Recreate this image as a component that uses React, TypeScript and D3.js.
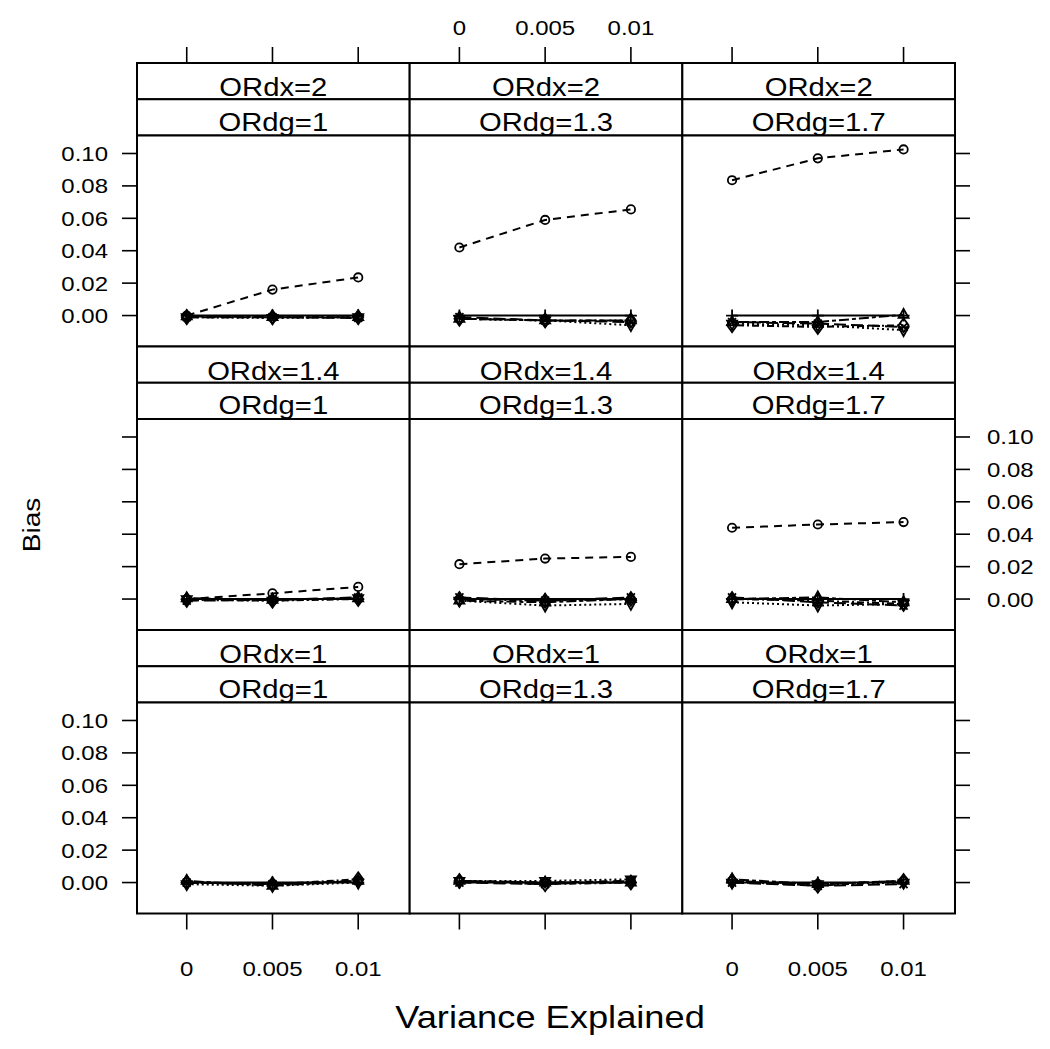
import React from 'react';
import * as d3 from 'd3';

// x values (variance explained) and panel conditions
const xValues = [0, 0.005, 0.01];
const xTickLabels = ['0', '0.005', '0.01'];
const yTicks = [0, 0.02, 0.04, 0.06, 0.08, 0.1];
const orDx = ['2', '1.4', '1']; // rows, top to bottom
const orDg = ['1', '1.3', '1.7']; // columns, left to right

// bias per panel (row-major: ORdx=2 first), 3 points each
const biasCircle = [
  [0.0, 0.016, 0.0235], [0.042, 0.059, 0.0655], [0.0835, 0.097, 0.1025],
  [0.0, 0.0035, 0.0075], [0.0215, 0.025, 0.026], [0.044, 0.046, 0.0475],
  [0.0, -0.001, 0.001], [0.001, 0.0, 0.001], [0.001, -0.001, 0.001],
];
const biasPlus = [
  [0, 0, 0], [0, 0, 0], [0, 0, 0],
  [0, 0, 0], [0, 0, 0], [0, 0, 0],
  [0, 0, 0], [0, 0, 0], [0, 0, 0],
];
const biasDiamond = [
  [-0.001, -0.001, -0.001], [-0.002, -0.003, -0.003], [-0.006, -0.007, -0.006],
  [-0.0005, -0.001, 0.0], [0.0, -0.001, 0.0], [0.0, -0.001, -0.003],
  [0.0, -0.001, 0.002], [0.001, -0.001, 0.0], [0.001, -0.002, 0.001],
];
const biasTriDown = [
  [-0.001, -0.0015, -0.001], [-0.002, -0.003, -0.006], [-0.005, -0.006, -0.009],
  [0.0, -0.001, 0.0005], [-0.001, -0.004, -0.003], [-0.002, -0.004, -0.003],
  [-0.001, -0.002, 0.0], [0.001, 0.001, 0.002], [0.0, -0.001, 0.0],
];
const biasCross = [
  [-0.001, -0.001, -0.0015], [-0.001, -0.003, -0.004], [-0.004, -0.005, -0.007],
  [-0.001, -0.0005, 0.001], [0.001, -0.001, 0.001], [0.001, -0.002, -0.004],
  [0.0, -0.001, 0.001], [0.0, -0.001, 0.001], [0.0, -0.002, -0.001],
];
const biasTriUp = [
  [-0.0005, -0.001, -0.001], [-0.002, -0.003, -0.003], [-0.004, -0.004, 0.0005],
  [0.0005, -0.0005, 0.0005], [-0.001, -0.002, 0.0], [0.0, 0.001, -0.002],
  [0.001, -0.002, 0.001], [0.001, 0.0, 0.0], [0.002, -0.001, 0.001],
];

const series = [
  { values: biasCircle, marker: 'circle', dash: '8,6' },
  { values: biasPlus, marker: 'plus', dash: null },
  { values: biasDiamond, marker: 'diamond', dash: '2,3,7,3' },
  { values: biasTriDown, marker: 'triDown', dash: '2,3' },
  { values: biasCross, marker: 'cross', dash: '12,5' },
  { values: biasTriUp, marker: 'triUp', dash: '4,3,10,3' },
];

const font = '"Liberation Sans", Arial, Helvetica, sans-serif';
const stretch = 1.17; // the original text is a little wider than Arial

// text drawn with a slight horizontal stretch
const T = ({ x, y, size, anchor = 'middle', rotate = 0, children }:
  { x: number; y: number; size: number; anchor?: string; rotate?: number; children: React.ReactNode }) => (
  <text transform={`translate(${x},${y}) rotate(${rotate}) scale(${stretch},1)`}
    textAnchor={anchor} fontSize={size} fontFamily={font} fill="#000">{children}</text>
);

const Marker = ({ type, x, y }: { type: string; x: number; y: number }) => {
  const s = 5;
  const common = { fill: 'none', stroke: '#000', strokeWidth: 1.8 };
  switch (type) {
    case 'circle':
      return <circle cx={x} cy={y} r={4.2} {...common} />;
    case 'plus':
      return <path d={`M${x - s - 1},${y}H${x + s + 1}M${x},${y - s - 1}V${y + s + 1}`} {...common} />;
    case 'diamond':
      return <path d={`M${x},${y - s * 1.4}L${x + s},${y}L${x},${y + s * 1.4}L${x - s},${y}Z`} {...common} />;
    case 'triDown':
      return <path d={`M${x - s},${y - s * 0.6}L${x + s},${y - s * 0.6}L${x},${y + s * 1.2}Z`} {...common} />;
    case 'triUp':
      return <path d={`M${x - s},${y + s * 0.6}L${x + s},${y + s * 0.6}L${x},${y - s * 1.2}Z`} {...common} />;
    default:
      return <path d={`M${x - 4},${y - 4}L${x + 4},${y + 4}M${x - 4},${y + 4}L${x + 4},${y - 4}`} {...common} />;
  }
};

const App = () => {
  const width = 1050;
  const height = 1049;
  const left = 137;
  const colW = (955 - 137) / 3;
  const top = 63;
  const rowPitch = 283.5;
  const stripH = 36.25;
  const panelH = rowPitch - 2 * stripH;
  const tick = 15;

  const x = d3.scaleLinear().domain([-0.0029, 0.013]).range([0, colW]);
  const y = d3.scaleLinear().domain([-0.0191, 0.1111]).range([panelH, 0]);
  const line = d3.line<number>()
    .x((_, i) => x(xValues[i]))
    .y(d => y(d));

  const panels = [];
  for (let r = 0; r < 3; r++) {
    for (let c = 0; c < 3; c++) {
      const px = left + c * colW;
      const rowTop = top + r * rowPitch;
      const py = rowTop + 2 * stripH;
      const idx = r * 3 + c;
      panels.push(
        <g key={idx}>
          {/* strips */}
          <rect x={px} y={rowTop} width={colW} height={stripH} fill="#fff" stroke="#000" strokeWidth={2} />
          <T x={px + colW / 2} y={rowTop + stripH - 3} size={25}>{`ORdx=${orDx[r]}`}</T>
          <rect x={px} y={rowTop + stripH} width={colW} height={stripH} fill="#fff" stroke="#000" strokeWidth={2} />
          <T x={px + colW / 2} y={rowTop + 2 * stripH - 5} size={25}>{`ORdg=${orDg[c]}`}</T>
          {/* panel */}
          <g transform={`translate(${px},${py})`}>
            <rect x={0} y={0} width={colW} height={panelH} fill="#fff" stroke="#000" strokeWidth={2} />
            {series.map((s, si) => (
              <g key={si}>
                <path d={line(s.values[idx]) || ''} fill="none" stroke="#000" strokeWidth={2}
                  strokeDasharray={s.dash || undefined} />
                {s.values[idx].map((v, i) => (
                  <Marker key={i} type={s.marker} x={x(xValues[i])} y={y(v)} />
                ))}
              </g>
            ))}
          </g>
        </g>
      );
    }
  }

  const axes = [];
  const labelSize = 20.5;
  // top and bottom x axes
  for (let c = 0; c < 3; c++) {
    const px = left + c * colW;
    const bottomY = top + 3 * rowPitch;
    xValues.forEach((v, i) => {
      const tx = px + x(v);
      axes.push(<line key={`tt${c}${i}`} x1={tx} x2={tx} y1={top} y2={top - 16} stroke="#000" strokeWidth={1.6} />);
      axes.push(<line key={`bt${c}${i}`} x1={tx} x2={tx} y1={bottomY} y2={bottomY + 16} stroke="#000" strokeWidth={1.6} />);
      if (c === 1) {
        axes.push(<T key={`tl${i}`} x={tx} y={35} size={labelSize}>{xTickLabels[i]}</T>);
      } else {
        axes.push(<T key={`bl${c}${i}`} x={tx} y={976} size={labelSize}>{xTickLabels[i]}</T>);
      }
    });
  }
  // left and right y axes
  for (let r = 0; r < 3; r++) {
    const py = top + r * rowPitch + 2 * stripH;
    const rightX = left + 3 * colW;
    yTicks.forEach((v, i) => {
      const ty = py + y(v);
      axes.push(<line key={`lt${r}${i}`} x1={left} x2={left - tick} y1={ty} y2={ty} stroke="#000" strokeWidth={1.6} />);
      axes.push(<line key={`rt${r}${i}`} x1={rightX} x2={rightX + tick} y1={ty} y2={ty} stroke="#000" strokeWidth={1.6} />);
      if (r === 1) {
        axes.push(<T key={`rl${r}${i}`} x={rightX + tick + 17} y={ty + 7.5} size={labelSize} anchor="start">{v.toFixed(2)}</T>);
      } else {
        axes.push(<T key={`ll${r}${i}`} x={left - tick - 14} y={ty + 7.5} size={labelSize} anchor="end">{v.toFixed(2)}</T>);
      }
    });
  }

  return (
    <svg width={width} height={height} style={{ display: 'block', position: 'absolute', left: 0, top: 0, background: '#fff' }}>
      <rect width={width} height={height} fill="#fff" />
      {panels}
      {axes}
      <T x={40} y={525} size={24} rotate={-90}>Bias</T>
      <T x={550} y={1028} size={31}>Variance Explained</T>
    </svg>
  );
};

export default App;
